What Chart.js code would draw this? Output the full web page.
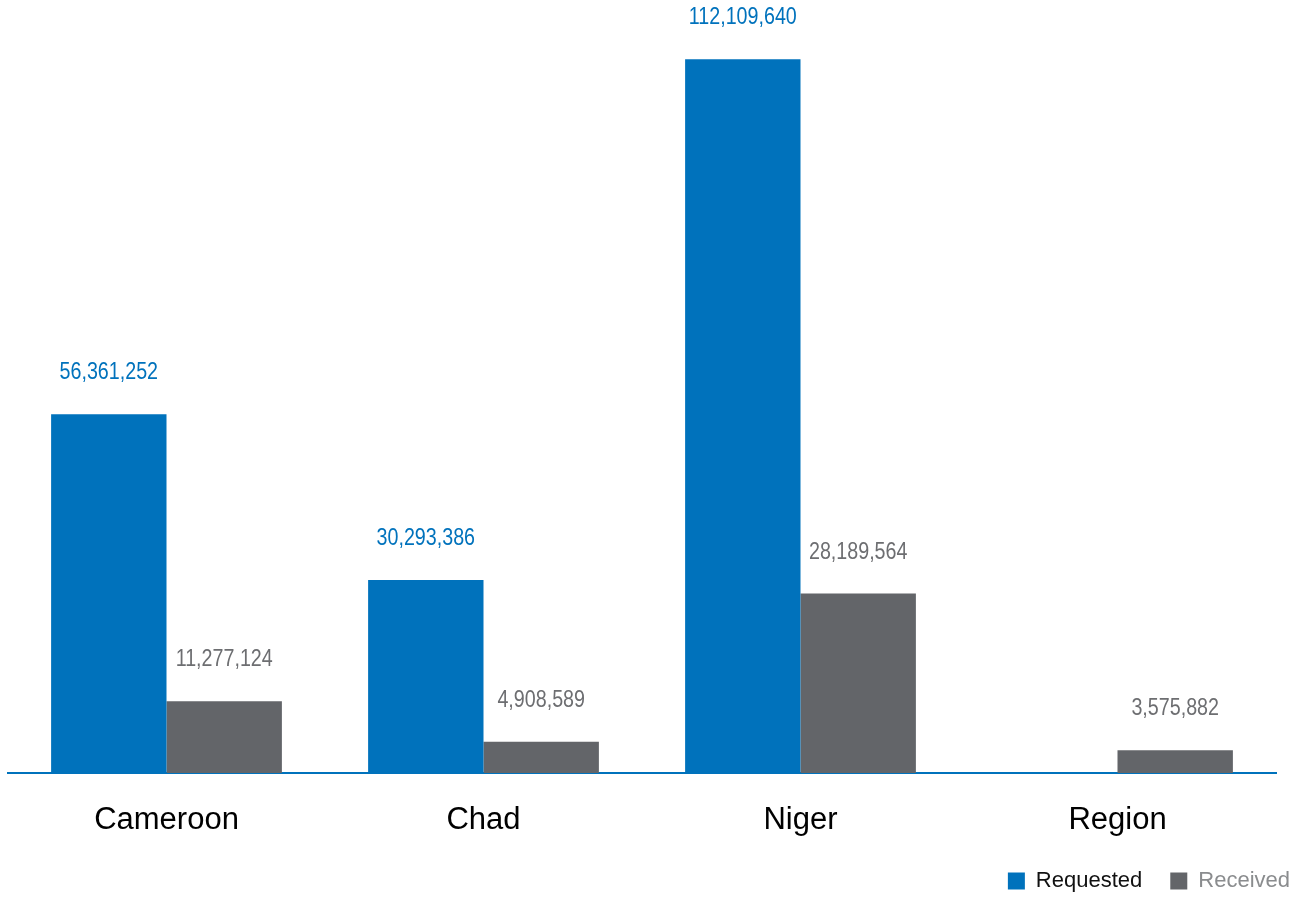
<html>
<head>
<script src="https://cdn.jsdelivr.net/npm/chart.js"></script>
<style>
	html, body {
		margin: 0;
		padding: 0;
		background: #ffffff;
	}
	#wrap {
		width: 1306px;
		height: 900px;
	}
</style>
</head>
<body>
<div id="wrap">
	<canvas id="fundsChart"></canvas>
</div>
<script>
	const countries = ['Cameroon', 'Chad', 'Niger', 'Region'];
	const requested = [56361252, 30293386, 112109640, null];
	const received = [11277124, 4908589, 28189564, 3575882];

	const blue = '#0072bc';
	const grey = '#636569';
	const sans = '"Liberation Sans", Arial, sans-serif';

	// prints the amount above each bar, squeezed sideways like a narrow face
	const valueLabels = {
		id: 'valueLabels',
		afterDatasetsDraw(chart) {
			const ctx = chart.ctx;
			chart.data.datasets.forEach((ds, i) => {
				const meta = chart.getDatasetMeta(i);
				meta.data.forEach((bar, j) => {
					const v = ds.data[j];
					if (v === null) return;
					ctx.save();
					ctx.translate(bar.x, bar.y - 35);
					ctx.scale(0.82, 1);
					ctx.font = '24px ' + sans;
					ctx.textAlign = 'center';
					ctx.textBaseline = 'alphabetic';
					ctx.fillStyle = ds.labelColor;
					ctx.fillText(v.toLocaleString('en-US'), 0, 0);
					ctx.restore();
				});
			});
		}
	};

	new Chart(document.getElementById('fundsChart'), {
		type: 'bar',
		data: {
			labels: countries,
			datasets: [
				{ label: 'Requested', data: requested, backgroundColor: blue, labelColor: blue, textColor: '#111111' },
				{ label: 'Received', data: received, backgroundColor: grey, labelColor: '#6d6e71', textColor: '#8a8c8e' }
			]
		},
		options: {
			responsive: true,
			maintainAspectRatio: false,
			animation: false,
			// legend keeps a trailing gap the size of its padding, so let it run past the edge
			layout: { padding: { left: 8, right: -12, top: 0, bottom: -2 } },
			datasets: {
				bar: { categoryPercentage: 0.728, barPercentage: 1.0 }
			},
			scales: {
				x: {
					grid: { display: false, drawTicks: false },
					border: { color: blue, width: 2 },
					ticks: {
						color: '#000000',
						padding: 29,
						font: { family: sans, size: 31 }
					},
					afterFit(scale) { scale.height = 69; }
				},
				y: {
					display: false,
					min: 0,
					max: 121400000
				},
				// empty strip on the right so the plot stops short of the legend's edge
				spacer: {
					position: 'right',
					grid: { display: false, drawTicks: false },
					border: { display: false },
					ticks: { display: false },
					afterFit(scale) { scale.width = 42; }
				}
			},
			plugins: {
				tooltip: { enabled: false },
				legend: {
					position: 'bottom',
					align: 'end',
					labels: {
						boxWidth: 17,
						boxHeight: 17,
						padding: 28,
						font: { family: sans, size: 22 },
						generateLabels(chart) {
							return chart.data.datasets.map((ds, i) => ({
								text: ds.label,
								fillStyle: ds.backgroundColor,
								strokeStyle: ds.backgroundColor,
								lineWidth: 0,
								fontColor: ds.textColor,
								datasetIndex: i,
								hidden: false
							}));
						}
					}
				}
			}
		},
		plugins: [valueLabels]
	});
</script>
</body>
</html>
